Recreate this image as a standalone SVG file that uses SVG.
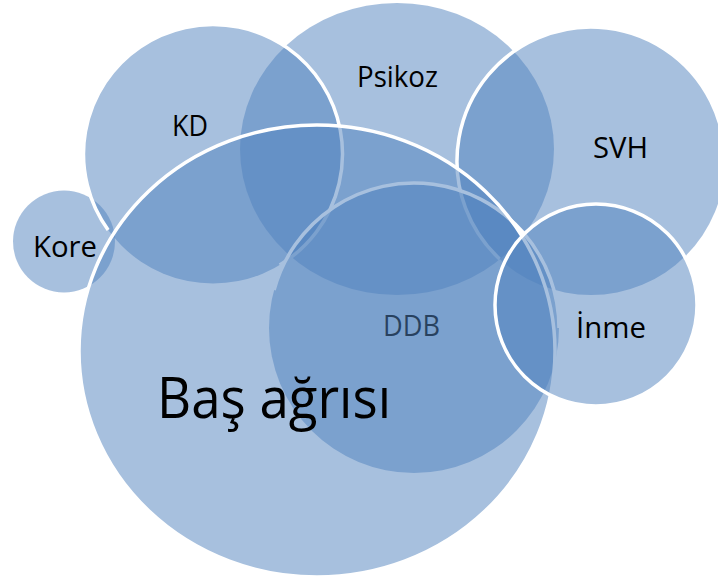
<svg xmlns="http://www.w3.org/2000/svg" width="718" height="580" viewBox="0 0 718 580">
<style>
.f{fill:#4F81BD;fill-opacity:0.5;stroke:none}
.s{fill:none;stroke:#FFFFFF;stroke-width:3.5}
.t{font-family:"Open Sans","Noto Sans","Liberation Sans",sans-serif;font-size:29px;fill:#000000}
.big{font-size:56px}
</style>
<rect x="0" y="0" width="718" height="580" fill="#FFFFFF"/>
<g id="psikoz">
<ellipse class="f" cx="397" cy="149" rx="157" ry="146"/>
<text class="t" x="357" y="87" textLength="81" lengthAdjust="spacingAndGlyphs">Psikoz</text>
</g>
<g id="kore">
<circle class="f" cx="64" cy="241.5" r="51"/>
<text class="t" x="33" y="257" textLength="64" lengthAdjust="spacingAndGlyphs">Kore</text>
</g>
<g id="kd">
<circle class="f" cx="213" cy="154" r="129.5"/>
<path class="s" d="M108.15,230 A129.5,129.5 0 1 1 279.7,265"/>
<text class="t" x="172" y="136" textLength="36" lengthAdjust="spacingAndGlyphs">KD</text>
</g>
<g id="svh">
<circle class="f" cx="591" cy="161" r="134"/>
<path class="s" d="M725,161 A134,134 0 1 0 499.6,259"/>
<text class="t" x="593" y="158" textLength="55" lengthAdjust="spacingAndGlyphs">SVH</text>
</g>
<g id="ddb">
<circle class="f" cx="414" cy="328" r="145"/>
<path class="s" d="M274.07,290 A145,145 0 0 1 559,328"/>
<text class="t" x="383" y="336" textLength="57" lengthAdjust="spacingAndGlyphs">DDB</text>
</g>
<g id="bas-agrisi">
<ellipse class="f" cx="317" cy="351" rx="238" ry="226"/>
<ellipse class="s" cx="317" cy="351" rx="238" ry="226"/>
<text class="t big" x="157" y="418" textLength="234" lengthAdjust="spacingAndGlyphs">Baş ağrısı</text>
</g>
<g id="inme">
<circle class="f" cx="596" cy="305" r="101"/>
<circle class="s" cx="596" cy="305" r="101"/>
<text class="t" x="576" y="338" textLength="70" lengthAdjust="spacingAndGlyphs">İnme</text>
</g>
</svg>
